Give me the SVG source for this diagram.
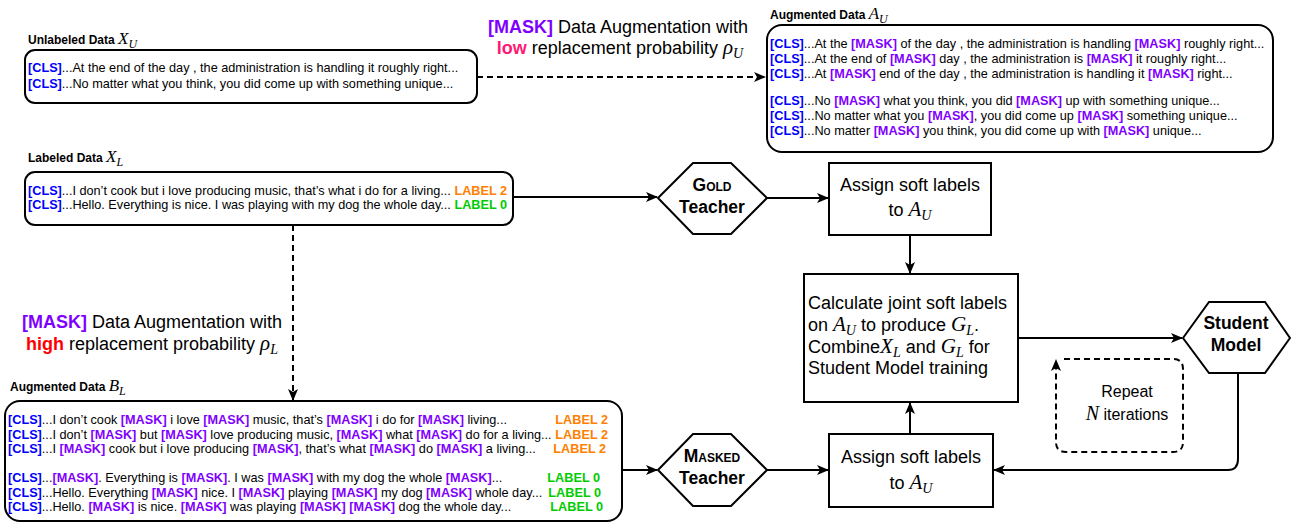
<svg xmlns="http://www.w3.org/2000/svg" width="1291" height="524" viewBox="0 0 1291 524">
<defs>
<style>
text{font-family:"Liberation Sans",Arial,Helvetica,sans-serif;fill:#000}
.s{font-size:12.7px}
.ttl{font-size:12px;font-weight:bold}
.big{font-size:18px}
.bb{font-size:17.5px;font-weight:bold}
.c{font-weight:bold;fill:#0000FF}
.k{font-weight:bold;fill:#7F00FF}
.l2{font-weight:bold;fill:#FF8000}
.l0{font-weight:bold;fill:#00CC00}
.m{font-family:"Liberation Serif","Times New Roman",serif;font-style:italic}
.sc{font-variant:small-caps}
.box{fill:#fff;stroke:#000;stroke-width:2}
.ln{fill:none;stroke:#000;stroke-width:2}
.da{stroke-dasharray:6 4}
</style>
<marker id="ah" viewBox="0 0 12 10" refX="11" refY="5" markerWidth="12" markerHeight="10" markerUnits="userSpaceOnUse" orient="auto">
<path d="M0,0 L12,5 L0,10 L3,5 Z" fill="#000"/>
</marker>
</defs>
<rect width="1291" height="524" fill="#fff"/>

<g id="connectors">
<path class="ln da" d="M477,77 H765" marker-end="url(#ah)"/>
<path class="ln" d="M513,197 H657" marker-end="url(#ah)"/>
<path class="ln da" d="M293,225 V400" marker-end="url(#ah)"/>
<path class="ln" d="M767,198 H828" marker-end="url(#ah)"/>
<path class="ln" d="M910,235 V273" marker-end="url(#ah)"/>
<path class="ln" d="M1018,338 H1182" marker-end="url(#ah)"/>
<path class="ln" d="M1238,373 V459 Q1238,470 1228,470 H994" marker-end="url(#ah)"/>
<path class="ln" d="M622,470 H657" marker-end="url(#ah)"/>
<path class="ln" d="M767,470 H828" marker-end="url(#ah)"/>
<path class="ln" d="M910,434 V403" marker-end="url(#ah)"/>
</g>

<g id="label-mask-low">
<text class="big" x="618" y="33" text-anchor="middle"><tspan class="k">[MASK]</tspan>  Data Augmentation with</text>
<text class="big" x="620" y="54" text-anchor="middle"><tspan font-weight="bold" fill="#FF1A75">low</tspan> replacement probability <tspan class="m" font-size="21px">ρ</tspan><tspan class="m" font-size="14px" dy="4">U</tspan></text>
</g>

<g id="label-mask-high">
<text class="big" x="152" y="328" text-anchor="middle"><tspan class="k">[MASK]</tspan> Data Augmentation with</text>
<text class="big" x="152" y="350" text-anchor="middle"><tspan font-weight="bold" fill="#FF0000">high</tspan> replacement probability <tspan class="m" font-size="21px">ρ</tspan><tspan class="m" font-size="14px" dy="4">L</tspan></text>
</g>

<g id="unlabeled-data">
<text class="ttl" x="28" y="44">Unlabeled Data <tspan class="m" font-size="17px" font-weight="normal">X</tspan><tspan class="m" font-size="12px" font-weight="normal" dy="4">U</tspan></text>
<rect class="box" x="25" y="50" width="452" height="53" rx="10"/>
<text class="s" x="28" y="72"><tspan class="c">[CLS]</tspan>...At the end of the day , the administration is handling it roughly right...</text>
<text class="s" x="28" y="88"><tspan class="c">[CLS]</tspan>...No matter what you think, you did come up with something unique...</text>
</g>

<g id="augmented-au">
<text class="ttl" x="770" y="19">Augmented Data <tspan class="m" font-size="17px" font-weight="normal">A</tspan><tspan class="m" font-size="12px" font-weight="normal" dy="4">U</tspan></text>
<rect class="box" x="767" y="25" width="506" height="127" rx="15"/>
<text class="s" x="770" y="48"><tspan class="c">[CLS]</tspan>...At the <tspan class="k">[MASK]</tspan> of the day , the administration is handling <tspan class="k">[MASK]</tspan> roughly right...</text>
<text class="s" x="770" y="63"><tspan class="c">[CLS]</tspan>...At the end of <tspan class="k">[MASK]</tspan> day , the administration is <tspan class="k">[MASK]</tspan> it roughly right...</text>
<text class="s" x="770" y="78"><tspan class="c">[CLS]</tspan>...At <tspan class="k">[MASK]</tspan> end of the day , the administration is handling it <tspan class="k">[MASK]</tspan> right...</text>
<text class="s" x="770" y="105"><tspan class="c">[CLS]</tspan>...No <tspan class="k">[MASK]</tspan> what you think, you did <tspan class="k">[MASK]</tspan> up with something unique...</text>
<text class="s" x="770" y="120"><tspan class="c">[CLS]</tspan>...No matter what you <tspan class="k">[MASK]</tspan>, you did come up <tspan class="k">[MASK]</tspan> something unique...</text>
<text class="s" x="770" y="135"><tspan class="c">[CLS]</tspan>...No matter <tspan class="k">[MASK]</tspan> you think, you did come up with <tspan class="k">[MASK]</tspan> unique...</text>
</g>

<g id="labeled-data">
<text class="ttl" x="28" y="162">Labeled Data <tspan class="m" font-size="17px" font-weight="normal">X</tspan><tspan class="m" font-size="12px" font-weight="normal" dy="4">L</tspan></text>
<rect class="box" x="25" y="172" width="488" height="53" rx="10"/>
<text class="s" x="28" y="194.5"><tspan class="c">[CLS]</tspan>...I don’t cook but i love producing music, that’s what i do for a living... <tspan class="l2">LABEL 2</tspan></text>
<text class="s" x="28" y="209"><tspan class="c">[CLS]</tspan>...Hello. Everything is nice. I was playing with my dog the whole day... <tspan class="l0">LABEL 0</tspan></text>
</g>

<g id="augmented-bl">
<text class="ttl" x="10" y="391">Augmented Data <tspan class="m" font-size="17px" font-weight="normal">B</tspan><tspan class="m" font-size="12px" font-weight="normal" dy="4">L</tspan></text>
<rect class="box" x="5" y="401" width="617" height="120" rx="15"/>
<text class="s" x="8" y="423.5"><tspan class="c">[CLS]</tspan>...I don’t cook <tspan class="k">[MASK]</tspan> i love <tspan class="k">[MASK]</tspan> music, that’s <tspan class="k">[MASK]</tspan> i do for <tspan class="k">[MASK]</tspan> living...</text>
<text class="s" x="8" y="438.5"><tspan class="c">[CLS]</tspan>...I don’t <tspan class="k">[MASK]</tspan> but <tspan class="k">[MASK]</tspan> love producing music, <tspan class="k">[MASK]</tspan> what <tspan class="k">[MASK]</tspan> do for a living...</text>
<text class="s" x="8" y="452.5"><tspan class="c">[CLS]</tspan>...I <tspan class="k">[MASK]</tspan> cook but i love producing <tspan class="k">[MASK]</tspan>, that’s what <tspan class="k">[MASK]</tspan> do <tspan class="k">[MASK]</tspan> a living...</text>
<text class="s" x="8" y="481.5"><tspan class="c">[CLS]</tspan>...<tspan class="k">[MASK]</tspan>. Everything is <tspan class="k">[MASK]</tspan>. I was <tspan class="k">[MASK]</tspan> with my dog the whole <tspan class="k">[MASK]</tspan>...</text>
<text class="s" x="8" y="496.5"><tspan class="c">[CLS]</tspan>...Hello. Everything <tspan class="k">[MASK]</tspan> nice. I <tspan class="k">[MASK]</tspan> playing <tspan class="k">[MASK]</tspan> my dog <tspan class="k">[MASK]</tspan> whole day...</text>
<text class="s" x="8" y="510.5"><tspan class="c">[CLS]</tspan>...Hello. <tspan class="k">[MASK]</tspan> is nice. <tspan class="k">[MASK]</tspan> was playing <tspan class="k">[MASK]</tspan> <tspan class="k">[MASK]</tspan> dog the whole day...</text>
<text class="s l2" x="608" y="423.5" text-anchor="end">LABEL 2</text>
<text class="s l2" x="608" y="438.5" text-anchor="end">LABEL 2</text>
<text class="s l2" x="606" y="452.5" text-anchor="end">LABEL 2</text>
<text class="s l0" x="600" y="481.5" text-anchor="end">LABEL 0</text>
<text class="s l0" x="601" y="496.5" text-anchor="end">LABEL 0</text>
<text class="s l0" x="603" y="510.5" text-anchor="end">LABEL 0</text>
</g>

<g id="gold-teacher">
<polygon class="box" points="658,198 693,163 731,163 767,198 731,234 693,234"/>
<text class="bb sc" x="712" y="191" text-anchor="middle">Gold</text>
<text class="bb" x="712" y="213" text-anchor="middle">Teacher</text>
</g>

<g id="assign-gold">
<rect class="box" x="829" y="163" width="162" height="72"/>
<text class="big" x="910" y="191" text-anchor="middle">Assign soft labels</text>
<text class="big" x="910" y="216" text-anchor="middle">to <tspan class="m" font-size="21px">A</tspan><tspan class="m" font-size="14px" dy="4">U</tspan></text>
</g>

<g id="joint-labels">
<rect class="box" x="804" y="274" width="214" height="128"/>
<text class="big" x="808" y="309">Calculate joint soft labels</text>
<text class="big" x="808" y="331">on <tspan class="m" font-size="21px">A</tspan><tspan class="m" font-size="14px" dy="4">U</tspan><tspan dy="-4"> to produce </tspan><tspan class="m" font-size="21px">G</tspan><tspan class="m" font-size="14px" dy="4">L</tspan><tspan dy="-4">.</tspan></text>
<text class="big" x="808" y="353">Combine<tspan class="m" font-size="21px">X</tspan><tspan class="m" font-size="14px" dy="4">L</tspan><tspan dy="-4"> and </tspan><tspan class="m" font-size="21px">G</tspan><tspan class="m" font-size="14px" dy="4">L</tspan><tspan dy="-4"> for</tspan></text>
<text class="big" x="808" y="374">Student Model training</text>
</g>

<g id="student-model">
<polygon class="box" points="1183,338 1209,302 1265,302 1290,338 1265,373 1209,373"/>
<text class="bb" x="1236" y="329" text-anchor="middle">Student</text>
<text class="bb" x="1236" y="351" text-anchor="middle">Model</text>
</g>

<g id="repeat">
<path class="ln da" d="M1064,359 H1173 Q1183,359 1183,369 V442 Q1183,452 1173,452 H1066 Q1056,452 1056,442 V360" marker-end="url(#ah)"/>
<text x="1127" y="397" text-anchor="middle" font-size="16px">Repeat</text>
<text x="1127" y="420" text-anchor="middle" font-size="16px"><tspan class="m" font-size="20px">N</tspan> iterations</text>
</g>

<g id="masked-teacher">
<polygon class="box" points="658,470 693,434 731,434 767,470 731,506 693,506"/>
<text class="bb sc" x="712" y="462" text-anchor="middle">Masked</text>
<text class="bb" x="712" y="484" text-anchor="middle">Teacher</text>
</g>

<g id="assign-masked">
<rect class="box" x="829" y="434" width="164" height="73"/>
<text class="big" x="911" y="463" text-anchor="middle">Assign soft labels</text>
<text class="big" x="911" y="489" text-anchor="middle">to <tspan class="m" font-size="21px">A</tspan><tspan class="m" font-size="14px" dy="4">U</tspan></text>
</g>
</svg>
